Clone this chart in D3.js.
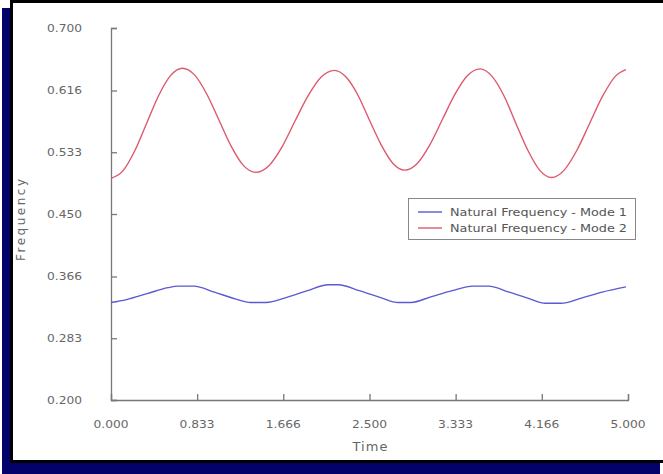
<!DOCTYPE html>
<html>
<head>
<meta charset="utf-8">
<script src="https://cdn.jsdelivr.net/npm/d3@7"></script>
<style>
  body { margin: 0; background: #fff; }
  text { font-family: "DejaVu Sans", Verdana, sans-serif; }
</style>
</head>
<body>
<div id="chart"></div>
<script>
// values
const yTicks = [0.200, 0.283, 0.366, 0.450, 0.533, 0.616, 0.700];
const yTickLabels = ["0.200", "0.283", "0.366", "0.450", "0.533", "0.616", "0.700"];
const xTicks = [0, 0.833, 1.666, 2.5, 3.333, 4.166, 5.0];
const xTickLabels = ["0.000", "0.833", "1.666", "2.500", "3.333", "4.166", "5.000"];

const mode1Time = [0, 0.15, 0.35, 0.55, 0.65, 0.8, 1.0, 1.2, 1.35, 1.5, 1.7, 1.9, 2.1, 2.2, 2.4, 2.6, 2.78, 2.9, 3.1, 3.3, 3.5, 3.65, 3.85, 4.05, 4.2, 4.35, 4.55, 4.75, 4.98];
const mode1Freq = [0.331, 0.335, 0.343, 0.351, 0.353, 0.353, 0.345, 0.336, 0.331, 0.331, 0.338, 0.347, 0.355, 0.355, 0.347, 0.338, 0.331, 0.331, 0.339, 0.347, 0.353, 0.353, 0.345, 0.336, 0.330, 0.330, 0.337, 0.345, 0.352];

const mode2Time = [0, 0.115, 0.23, 0.345, 0.46, 0.575, 0.69,
  0.808, 0.927, 1.045, 1.163, 1.282, 1.40,
  1.527, 1.653, 1.78, 1.907, 2.033, 2.16,
  2.273, 2.387, 2.50, 2.613, 2.727, 2.84,
  2.962, 3.083, 3.205, 3.327, 3.448, 3.57,
  3.685, 3.80, 3.915, 4.03, 4.145, 4.26,
  4.383, 4.507, 4.63, 4.753, 4.877, 4.98];
const mode2Freq = [0.498, 0.508, 0.535, 0.572, 0.609, 0.636, 0.646,
  0.637, 0.611, 0.576, 0.541, 0.515, 0.506,
  0.515, 0.540, 0.575, 0.609, 0.634, 0.643,
  0.634, 0.610, 0.576, 0.543, 0.518, 0.509,
  0.518, 0.543, 0.577, 0.611, 0.636, 0.645,
  0.635, 0.609, 0.572, 0.536, 0.509, 0.499,
  0.509, 0.536, 0.572, 0.608, 0.635, 0.644];

const seriesNames = ["Natural Frequency - Mode 1", "Natural Frequency - Mode 2"];
const seriesColors = ["#5a5ad2", "#dc5a6e"];

const width = 663;
const height = 474;

const svg = d3.select("#chart")
  .append("svg")
  .attr("width", width)
  .attr("height", height);

// frame: navy shadow, black border, white panel
svg.append("rect").attr("x", 2).attr("y", 8).attr("width", 658).attr("height", 466).attr("fill", "#02026a");
svg.append("rect").attr("x", 10).attr("y", 0).attr("width", 660).attr("height", 463).attr("fill", "#000");
svg.append("rect").attr("x", 13).attr("y", 3).attr("width", 660).attr("height", 457).attr("fill", "#fff");

const x = d3.scaleLinear().domain([0, 5]).range([111, 628]);
const y = d3.scaleLinear().domain([0.2, 0.7]).range([400, 28]);

// axes, ticks pointing inward
const xAxis = svg.append("g")
  .attr("transform", "translate(0,400)")
  .call(d3.axisTop(x).tickValues(xTicks).tickSize(6).tickFormat(""));
const yAxis = svg.append("g")
  .attr("transform", "translate(111,0)")
  .call(d3.axisRight(y).tickValues(yTicks).tickSize(6).tickFormat(""));
[xAxis, yAxis].forEach(g => {
  g.select(".domain").attr("stroke", "#777").attr("stroke-width", 1.3);
  g.selectAll(".tick line").attr("stroke", "#777").attr("stroke-width", 1.3);
});

svg.selectAll(".xlab")
  .data(xTicks)
  .enter()
  .append("text")
  .attr("x", d => x(d))
  .attr("y", 428)
  .attr("text-anchor", "middle")
  .attr("font-size", 11)
  .attr("textLength", 35)
  .attr("lengthAdjust", "spacingAndGlyphs")
  .attr("fill", "#666")
  .text((d, i) => xTickLabels[i]);

svg.selectAll(".ylab")
  .data(yTicks)
  .enter()
  .append("text")
  .attr("x", 82)
  .attr("y", d => y(d) + 4)
  .attr("text-anchor", "end")
  .attr("font-size", 11)
  .attr("textLength", 35)
  .attr("lengthAdjust", "spacingAndGlyphs")
  .attr("fill", "#666")
  .text((d, i) => yTickLabels[i]);

svg.append("text")
  .attr("x", 370)
  .attr("y", 451)
  .attr("text-anchor", "middle")
  .attr("font-size", 13)
  .attr("textLength", 35)
  .attr("fill", "#666")
  .text("Time");

svg.append("text")
  .attr("transform", "translate(25,220) rotate(-90)")
  .attr("text-anchor", "middle")
  .attr("font-size", 12)
  .attr("textLength", 82)
  .attr("fill", "#666")
  .text("Frequency");

// lines
const series = [
  mode1Time.map((t, i) => [t, mode1Freq[i]]),
  mode2Time.map((t, i) => [t, mode2Freq[i]])
];
const line = d3.line()
  .x(d => x(d[0]))
  .y(d => y(d[1]))
  .curve(d3.curveMonotoneX);

svg.selectAll(".series")
  .data(series)
  .enter()
  .append("path")
  .attr("fill", "none")
  .attr("stroke", (d, i) => seriesColors[i])
  .attr("stroke-width", 1.4)
  .attr("d", line);

// legend
svg.append("rect")
  .attr("x", 408.5).attr("y", 198.5)
  .attr("width", 227).attr("height", 41)
  .attr("fill", "#fff")
  .attr("stroke", "#888");

const legend = svg.selectAll(".legend")
  .data(seriesNames)
  .enter()
  .append("g")
  .attr("transform", (d, i) => `translate(418,${212 + i * 16})`);
legend.append("line")
  .attr("x1", 0).attr("x2", 24)
  .attr("stroke", (d, i) => seriesColors[i])
  .attr("stroke-width", 1.4);
legend.append("text")
  .attr("x", 32)
  .attr("y", 4)
  .attr("font-size", 10)
  .attr("textLength", 177)
  .attr("lengthAdjust", "spacingAndGlyphs")
  .attr("fill", "#555")
  .text(d => d);
</script>
</body>
</html>
